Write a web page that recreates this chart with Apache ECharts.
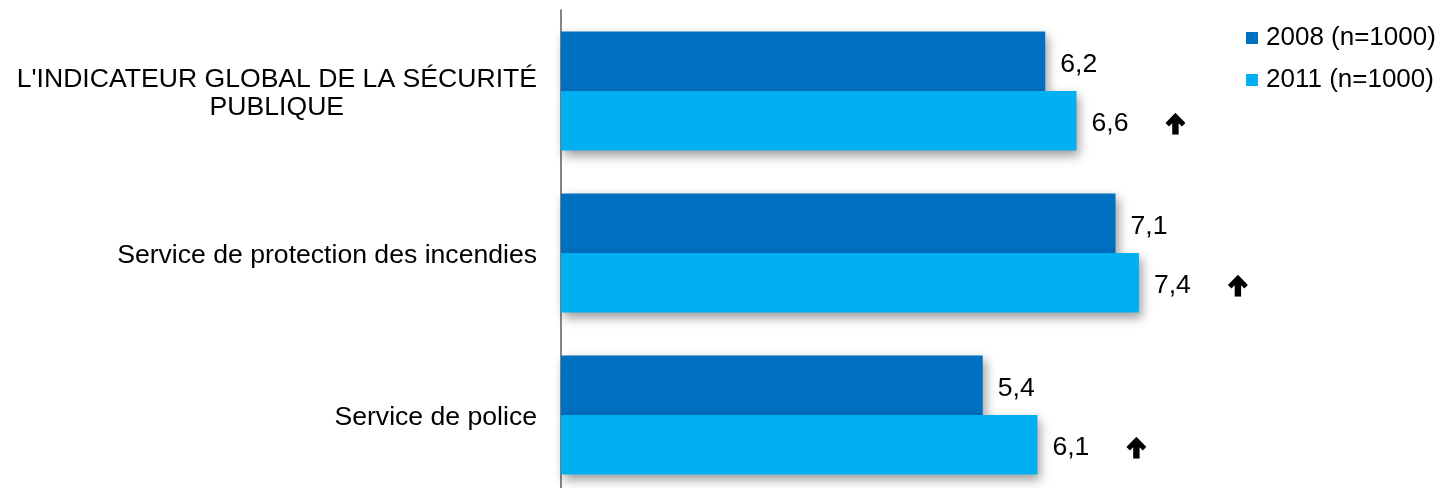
<!DOCTYPE html>
<html>
<head>
<meta charset="utf-8">
<script src="https://cdn.jsdelivr.net/npm/echarts@6/dist/echarts.min.js"></script>
<style>
  html, body { margin: 0; padding: 0; background: #ffffff; overflow: hidden; }
  #chart { width: 1449px; height: 496px; }
</style>
</head>
<body>
<div id="chart"></div>
<script>
// Satisfaction scores (out of 10) by service
const categories = [
  "L'INDICATEUR GLOBAL DE LA SÉCURITÉ\nPUBLIQUE",
  "Service de protection des incendies",
  "Service de police"
];
const seriesNames = ["2008 (n=1000)", "2011 (n=1000)"];
const values2008 = [6.2, 7.1, 5.4];
const values2011 = [6.6, 7.4, 6.1];
// Significant increase between 2008 and 2011
const increase2011 = [true, true, true];

const FONT = "'Liberation Sans', Arial, sans-serif";
const DARK = "#0070C0";
const LIGHT = "#00B0F0";
const FS = 26.6;

// Bold upward arrow drawn next to significant increases
const arrowSvg = 'data:image/svg+xml;charset=utf-8,' + encodeURIComponent(
  '<svg xmlns="http://www.w3.org/2000/svg" width="20" height="22" viewBox="0 0 20 22">' +
  '<path d="M10 0 L20 10.2 L16.4 13.8 L13.2 10.4 L13.2 22 L6.8 22 L6.8 10.4 L3.6 13.8 L0 10.2 Z" fill="#000"/></svg>'
);

const fmt = v => String(v).replace('.', ',');

const chart = echarts.init(document.getElementById('chart'), null, { renderer: 'canvas' });

const barShadow = {
  shadowColor: 'rgba(0,0,0,0.38)',
  shadowBlur: 10,
  shadowOffsetX: 3,
  shadowOffsetY: 5
};

chart.setOption({
  animation: false,
  backgroundColor: '#ffffff',
  textStyle: { fontFamily: FONT },
  legend: {
    orient: 'vertical',
    left: 1241,
    top: 20,
    itemWidth: 12,
    itemHeight: 12,
    itemGap: 16,
    icon: 'rect',
    textStyle: { fontFamily: FONT, fontSize: 26, color: '#000', lineHeight: 26, padding: [0, 0, 0, 3] },
    data: seriesNames
  },
  grid: { left: 561, right: 107, top: 10, height: 486, containLabel: false },
  xAxis: {
    type: 'value',
    min: 0,
    max: 10,
    show: false
  },
  yAxis: {
    type: 'category',
    inverse: true,
    data: categories,
    axisLine: { show: true, lineStyle: { color: '#868686', width: 2 } },
    axisTick: { show: false },
    axisLabel: {
      margin: 24,
      align: 'right',
      padding: [6, 0, 0, 0],
      formatter: function (val) {
        return val.split('\n').map(l => '{c|' + l + '}').join('\n');
      },
      rich: {
        c: { fontFamily: FONT, fontSize: FS, color: '#000', align: 'center', lineHeight: 28 }
      }
    }
  },
  series: [
    {
      name: seriesNames[0],
      type: 'bar',
      data: values2008,
      barGap: '0%',
      barCategoryGap: '26.5%',
      itemStyle: Object.assign({ color: DARK }, barShadow),
      label: {
        show: true,
        position: 'right',
        distance: 15,
        offset: [0, 3],
        fontFamily: FONT,
        fontSize: FS,
        color: '#000',
        formatter: p => fmt(p.value)
      }
    },
    {
      name: seriesNames[1],
      type: 'bar',
      data: values2011,
      barGap: '0%',
      barCategoryGap: '26.5%',
      itemStyle: Object.assign({ color: LIGHT }, barShadow),
      label: {
        show: true,
        position: 'right',
        distance: 15,
        offset: [0, 3],
        fontFamily: FONT,
        fontSize: FS,
        color: '#000',
        formatter: p => '{v|' + fmt(p.value) + '}' +
          (increase2011[p.dataIndex] ? '{s|}{a|}' : ''),
        rich: {
          v: { fontFamily: FONT, fontSize: FS, color: '#000' },
          s: { width: 37 },
          a: { width: 20, height: 22, backgroundColor: { image: arrowSvg } }
        }
      }
    }
  ]
});
</script>
</body>
</html>
